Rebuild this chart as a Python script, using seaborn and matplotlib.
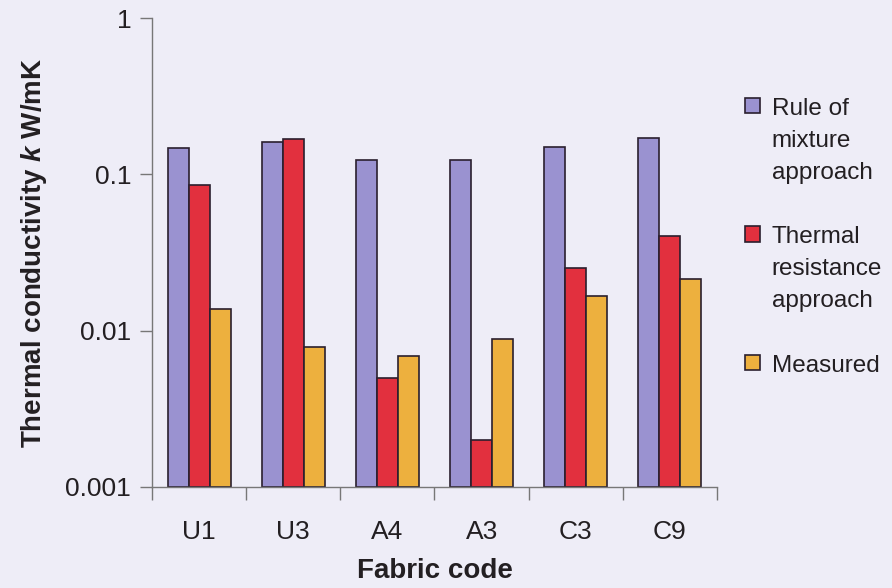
import matplotlib
matplotlib.use("Agg")
import matplotlib.pyplot as plt
import seaborn as sns
import pandas as pd
import numpy as np
from matplotlib.ticker import FixedLocator, NullFormatter, FixedFormatter

fabrics = ["U1", "U3", "A4", "A3", "C3", "C9"]
series = ["Rule of\nmixture\napproach", "Thermal\nresistance\napproach", "Measured"]
rule_of_mixture = [0.147, 0.162, 0.123, 0.123, 0.149, 0.171]
thermal_resistance = [0.0854, 0.168, 0.0050, 0.0020, 0.0251, 0.0403]
measured = [0.0138, 0.0079, 0.0069, 0.0088, 0.0167, 0.0214]
ytick_vals = [0.001, 0.01, 0.1, 1]
ytick_labels = ["0.001", "0.01", "0.1", "1"]

colors = ["#9a92d0", "#e2303e", "#edb03e"]
bg = "#eeedf7"
txt = "#231f22"
edge = "#2a1f2e"

df = pd.DataFrame({
    "Fabric code": fabrics * 3,
    "series": [series[0]] * 6 + [series[1]] * 6 + [series[2]] * 6,
    "k": rule_of_mixture + thermal_resistance + measured,
})

sns.set_theme(style="ticks")
plt.rcParams["font.family"] = ["Liberation Sans", "DejaVu Sans"]
plt.rcParams["mathtext.fontset"] = "custom"
plt.rcParams["mathtext.it"] = "Liberation Sans:bold:italic"
plt.rcParams["mathtext.rm"] = "Liberation Sans:bold"
plt.rcParams["text.color"] = txt

fig = plt.figure(figsize=(8.92, 5.88), dpi=100, facecolor=bg)
ax = fig.add_axes([152 / 892, 1 - 487 / 588, (717 - 152) / 892, (487 - 18) / 588])
ax.set_facecolor(bg)

ymin = ytick_vals[0]
sns.barplot(data=df, x="Fabric code", y="k", hue="series", palette=colors,
            width=0.67, gap=0, edgecolor=edge, linewidth=1.2,
            saturation=1, ax=ax)
ax.set_yscale("log")
# bars should rise from the bottom of the log axis
for p in ax.patches:
    top = p.get_y() + p.get_height()
    if top > 0:
        p.set_y(ymin)
        p.set_height(top - ymin)

ax.set_ylim(ymin, 1)
ax.set_xlim(-0.5, 5.5)
ax.yaxis.set_major_locator(FixedLocator(ytick_vals))
ax.yaxis.set_major_formatter(FixedFormatter(ytick_labels))
ax.yaxis.set_minor_locator(FixedLocator([]))
ax.yaxis.set_minor_formatter(NullFormatter())

ax.set_xticks(range(len(fabrics)))
ax.set_xticklabels(fabrics)
ax.set_xticks(np.arange(-0.5, 6.0, 1.0), minor=True)
ax.tick_params(axis="x", which="both", bottom=True)
ax.tick_params(axis="x", which="major", length=0, pad=24, labelsize=19, colors=txt)
ax.tick_params(axis="x", which="minor", length=9, width=1, color="#777777", direction="out")
ax.tick_params(axis="y", which="major", left=True, length=9, width=1, color="#777777",
               direction="out", pad=6, labelsize=19, labelcolor=txt)

for s in ["top", "right"]:
    ax.spines[s].set_visible(False)
for s in ["left", "bottom"]:
    ax.spines[s].set_color("#777777")
    ax.spines[s].set_linewidth(1)

ax.set_xlabel("Fabric code", fontsize=20, fontweight="bold", labelpad=10, color=txt)
ax.set_ylabel(r"Thermal conductivity $\mathit{k}$ W/mK", fontsize=20, fontweight="bold",
              labelpad=12, color=txt)

leg = ax.legend(loc="upper left", bbox_to_anchor=(745 / 892, 1 - 98 / 588),
                bbox_transform=fig.transFigure, frameon=False, fontsize=17.5,
                handlelength=0.6, handleheight=0.6, handletextpad=0.5,
                labelspacing=1.75, borderpad=0, borderaxespad=0)
for col in leg._legend_handle_box.get_children():
    for hp in col.get_children():
        hp.align = "top"
for t in leg.get_texts():
    t.set_color(txt)
    t.set_linespacing(1.58)
for h in leg.legend_handles:
    h.set_edgecolor(edge)
    h.set_linewidth(1.2)

fig.savefig("out.png", dpi=100, facecolor=bg)
